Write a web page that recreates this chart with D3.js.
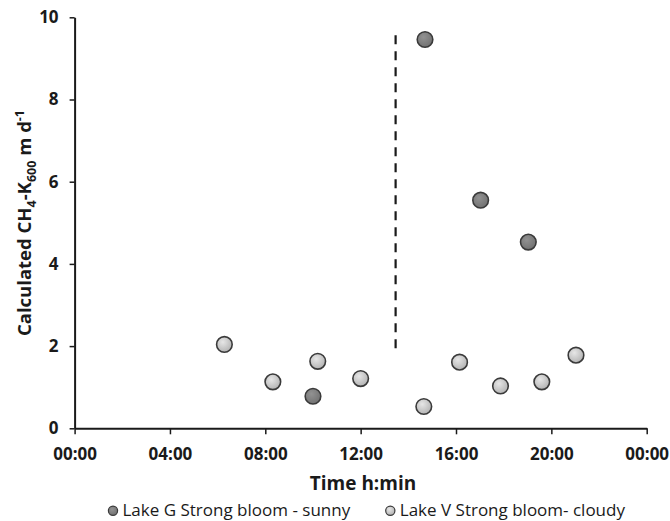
<!DOCTYPE html>
<html>
<head>
<meta charset="utf-8">
<script src="https://cdn.jsdelivr.net/npm/d3@7"></script>
<style>
  body { margin: 0; background: #fff; }
  text { font-family: "Open Sans", sans-serif; fill: #1a1a1a; }
</style>
</head>
<body>
<div id="container"></div>
<script>
// series data: time of day (h:min) and calculated CH4-K600 (m d-1)
const sunnyTimes  = ["10:00", "14:42", "17:02", "19:02"]
const sunnyValues = [0.78, 9.46, 5.55, 4.53]

const cloudyTimes  = ["06:17", "08:19", "10:12", "12:00", "14:39", "16:09", "17:52", "19:36", "21:02"]
const cloudyValues = [2.04, 1.13, 1.63, 1.21, 0.53, 1.61, 1.03, 1.13, 1.78]

// dashed marker line
const dashTime = "13:28"
const dashRange = [1.95, 9.6]

const xTicks = [0, 4, 8, 12, 16, 20, 24]
const yTicks = [0, 2, 4, 6, 8, 10]
const seriesNames = ["Lake G Strong bloom - sunny", "Lake V Strong bloom- cloudy"]

const toHours = s => { const [h, m] = s.split(":").map(Number); return h + m / 60 }
const pad = n => String(n % 24).padStart(2, "0") + ":00"

const width = 670, height = 521

let svg = d3.select("#container")
    .append("svg")
    .attr("width", width)
    .attr("height", height)

const defs = svg.append("defs")
function grad(id, c0, c1) {
    const g = defs.append("radialGradient").attr("id", id)
        .attr("cx", "40%").attr("cy", "35%").attr("r", "65%")
    g.append("stop").attr("offset", "0%").attr("stop-color", c0)
    g.append("stop").attr("offset", "100%").attr("stop-color", c1)
}
grad("gDark", "#929292", "#727272")
grad("gLight", "#e6e6e6", "#b4b4b4")

//scales
let x = d3.scaleLinear().domain([0, 24]).range([74.6, 646.7])
let y = d3.scaleLinear().domain([0, 10]).range([428.3, 17.3])

//axes
let xAxis = svg.append("g")
    .attr("transform", `translate(0,${y(0)})`)
    .call(d3.axisBottom(x).tickValues(xTicks).tickFormat(pad)
        .tickSizeInner(6).tickSizeOuter(0).tickPadding(14))
let yAxis = svg.append("g")
    .attr("transform", `translate(${x(0)},0)`)
    .call(d3.axisLeft(y).tickValues(yTicks)
        .tickSizeInner(5).tickSizeOuter(0).tickPadding(11))

svg.selectAll(".domain").attr("stroke", "#1a1a1a").attr("stroke-width", 2)
svg.selectAll(".tick line").attr("stroke", "#1a1a1a").attr("stroke-width", 1.5)
svg.selectAll(".tick text")
    .style("font-family", "'Open Sans', sans-serif")
    .style("font-size", "17px")
    .style("font-weight", "bold")
    .attr("fill", "#1a1a1a")

//dashed line
svg.append("line")
    .attr("x1", x(toHours(dashTime))).attr("x2", x(toHours(dashTime)))
    .attr("y1", y(dashRange[0])).attr("y2", y(dashRange[1]))
    .attr("stroke", "#1a1a1a")
    .attr("stroke-width", 2.2)
    .attr("stroke-dasharray", "9,7")

//points
function plot(times, values, fill) {
    svg.selectAll(null)
        .data(times.map((t, i) => ({ t: toHours(t), v: values[i] })))
        .enter()
        .append("circle")
        .attr("cx", d => x(d.t))
        .attr("cy", d => y(d.v))
        .attr("r", 7.8)
        .attr("fill", fill)
        .attr("stroke", "#3a3a3a")
        .attr("stroke-width", 1.6)
}
plot(cloudyTimes, cloudyValues, "url(#gLight)")
plot(sunnyTimes, sunnyValues, "url(#gDark)")

//axis titles
svg.append("text")
    .attr("x", 363).attr("y", 490)
    .attr("text-anchor", "middle")
    .style("font-size", "19px").style("font-weight", "bold")
    .text("Time h:min")

let yt = svg.append("text")
    .attr("transform", "translate(31,223) rotate(-90)")
    .attr("text-anchor", "middle")
    .style("font-size", "18.5px").style("font-weight", "bold")
yt.append("tspan").text("Calculated CH")
yt.append("tspan").attr("dy", 5).style("font-size", "12.5px").text("4")
yt.append("tspan").attr("dy", -5).text("-K")
yt.append("tspan").attr("dy", 5).style("font-size", "12.5px").text("600")
yt.append("tspan").attr("dy", -5).text(" m d")
yt.append("tspan").attr("dy", -7).style("font-size", "12.5px").text("-1")

//legend
const legendX = [113, 390.3]
const legendFill = ["url(#gDark)", "url(#gLight)"]
seriesNames.forEach((name, i) => {
    svg.append("circle")
        .attr("cx", legendX[i]).attr("cy", 510.7).attr("r", 4.6)
        .attr("fill", legendFill[i])
        .attr("stroke", "#3a3a3a").attr("stroke-width", 1.2)
    svg.append("text")
        .attr("x", legendX[i] + 9.5).attr("y", 515.7)
        .style("font-size", "17px")
        .attr("fill", "#222")
        .text(name)
})
</script>
</body>
</html>
